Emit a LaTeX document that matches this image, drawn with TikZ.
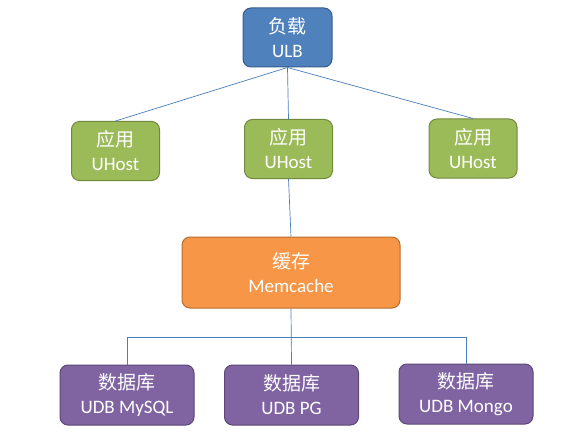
\documentclass[tikz,border=0pt]{standalone}
\usepackage{fontspec}
\setmainfont{Carlito}
\newfontfamily\cjk{Noto Sans CJK SC}
\usetikzlibrary{positioning}

\definecolor{ulbfill}{HTML}{4F81BD}
\definecolor{ulbdraw}{HTML}{385D8A}
\definecolor{appfill}{HTML}{9BBB59}
\definecolor{appdraw}{HTML}{71893F}
\definecolor{cachefill}{HTML}{F79646}
\definecolor{cachedraw}{HTML}{B66D31}
\definecolor{dbfill}{HTML}{8064A2}
\definecolor{dbdraw}{HTML}{5C4776}
\definecolor{linkcol}{HTML}{4A7EBB}

\begin{document}
\begin{tikzpicture}[x=1pt,y=1pt,
  box/.style={rectangle,rounded corners=8pt,line width=1pt,inner sep=0pt,
    align=center,text=white,font=\fontsize{19}{24}\selectfont},
  ulb node/.style={box,fill=ulbfill,draw=ulbdraw,minimum width=89pt,minimum height=59pt},
  app node/.style={box,fill=appfill,draw=appdraw,minimum width=88pt,minimum height=59pt},
  cache node/.style={box,fill=cachefill,draw=cachedraw,minimum width=218pt,minimum height=71pt},
  db node/.style={box,fill=dbfill,draw=dbdraw,minimum width=134pt,minimum height=60pt},
  link/.style={draw=linkcol,line width=0.7pt}]

  \useasboundingbox (0,0) rectangle (588,437);

  \node[ulb node] (ulb) at (287.5,399.5) {{\cjk 负载}\\ULB};

  \node[app node] (app1) at (115.5,286) {{\cjk 应用}\\UHost};
  \node[app node] (app2) at (288.5,288) {{\cjk 应用}\\UHost};
  \node[app node] (app3) at (473,288.5) {{\cjk 应用}\\UHost};

  \node[cache node] (cache) at (291,164.5) {{\cjk 缓存}\\Memcache};

  \node[db node] (db1) at (127,42) {{\cjk 数据库}\\UDB MySQL};
  \node[db node] (db2) at (291.5,42) {{\cjk 数据库}\\UDB PG};
  \node[db node] (db3) at (466,43) {{\cjk 数据库}\\UDB Mongo};

  \coordinate (bus) at (291.5,100);

  \path[link]
    (ulb.south) edge (app1.north)
    (ulb.south) edge (app2.north)
    (ulb.south) edge (app3.north)
    (app2.south) edge (cache.north)
    (cache.south) edge (db2.north);
  \draw[link] (bus) -| (db1.north);
  \draw[link] (bus) -| (db3.north);
\end{tikzpicture}
\end{document}
